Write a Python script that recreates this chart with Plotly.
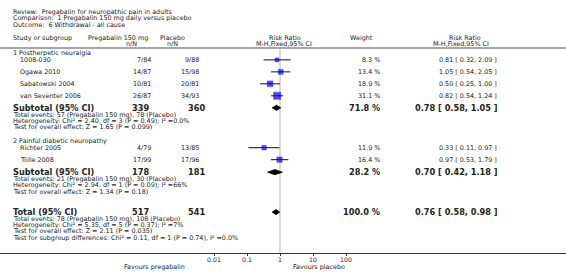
import plotly.graph_objects as go

# ---------------- data ----------------
study_names = ["1008-030", "Ogawa 2010", "Sabatowski 2004", "van Seventer 2006",
               "Richter 2005", "Tölle 2008"]
study_group = [0, 0, 0, 0, 1, 1]
preg_events = [7, 14, 10, 26, 4, 17]
preg_total = [84, 87, 81, 87, 79, 99]
plac_events = [9, 15, 20, 34, 13, 17]
plac_total = [88, 98, 81, 93, 85, 96]
rr = [0.81, 1.05, 0.50, 0.82, 0.33, 0.97]
rr_lo = [0.32, 0.54, 0.25, 0.54, 0.11, 0.53]
rr_hi = [2.09, 2.05, 1.00, 1.24, 0.97, 1.79]
weights = [8.3, 13.4, 18.9, 31.1, 11.9, 16.4]

group_labels = ["1 Postherpetic neuralgia", "2 Painful diabetic neuropathy"]
sub_preg_total = [339, 178]
sub_plac_total = [360, 181]
sub_rr = [0.78, 0.70]
sub_lo = [0.58, 0.42]
sub_hi = [1.05, 1.18]
sub_weight = [71.8, 28.2]
sub_notes = [
    ["Total events: 57 (Pregabalin 150 mg), 78 (Placebo)",
     "Heterogeneity: Chi² = 2.40, df = 3 (P = 0.49); I² =0.0%",
     "Test for overall effect: Z = 1.65 (P = 0.099)"],
    ["Total events: 21 (Pregabalin 150 mg), 30 (Placebo)",
     "Heterogeneity: Chi² = 2.94, df = 1 (P = 0.09); I² =66%",
     "Test for overall effect: Z = 1.34 (P = 0.18)"],
]
tot_preg_total = 517
tot_plac_total = 541
tot_rr = 0.76
tot_lo = 0.58
tot_hi = 0.98
tot_weight = 100.0
tot_notes = ["Total events: 78 (Pregabalin 150 mg), 108 (Placebo)",
             "Heterogeneity: Chi² = 5.35, df = 5 (P = 0.37); I² =7%",
             "Test for overall effect: Z = 2.11 (P = 0.035)",
             "Test for subgroup differences: Chi² = 0.11, df = 1 (P = 0.74), I² =0.0%"]

tick_vals = [0.01, 0.1, 1, 10, 100]
tick_text = ["0.01", "0.1", "1", "10", "100"]

title_lines = ["Review:  Pregabalin for neuropathic pain in adults",
               "Comparison:  1 Pregabalin 150 mg daily versus placebo",
               "Outcome:  6 Withdrawal - all cause"]

# ---------------- layout helpers ----------------
W, H = 566, 272
PLOT_H = 253.5
FONT = "DejaVu Sans"
TXT = "#222222"
FS = 6.4
FSB = 8.2

study_y = [60, 72, 84, 96, 148, 160]
group_y = [53, 141.5]
sub_y = [108.0, 172.5]
tot_y = 212.5
NOTE_DY = 6.25

fig = go.Figure()


def txt(px, py, s, anchor="left", size=FS, bold=False):
    fig.add_annotation(
        x=px / W, xref="paper", y=1 - py / PLOT_H, yref="paper",
        text=f"<b>{s}</b>" if bold else s, showarrow=False,
        xanchor=anchor, yanchor="middle", borderpad=0, borderwidth=0,
        font=dict(family=FONT, size=size, color=TXT))


# header texts
for i, s in enumerate(title_lines):
    txt(13, 12.3 + i * 6.2, s)
txt(13, 38, "Study or subgroup")
txt(148, 38, "Pregabalin 150 mg", "right")
txt(137, 44, "n/N", "right")
txt(172.5, 38, "Placebo", "center")
txt(172.5, 44, "n/N", "center")
txt(285, 38, "Risk Ratio", "center")
txt(284, 44, "M-H,Fixed,95% CI", "center")
txt(361, 38, "Weight", "center")
txt(465, 38, "Risk Ratio", "center")
txt(461, 44, "M-H,Fixed,95% CI", "center")

# group labels
for g, lab in enumerate(group_labels):
    txt(13, group_y[g], lab)

# studies
for i, name in enumerate(study_names):
    y = study_y[i]
    txt(20, y, name)
    txt(151, y, f"{preg_events[i]}/{preg_total[i]}", "right")
    txt(199, y, f"{plac_events[i]}/{plac_total[i]}", "right")
    txt(380, y, f"{weights[i]:.1f} %", "right")
    txt(497, y, f"{rr[i]:.2f} [ {rr_lo[i]:.2f}, {rr_hi[i]:.2f} ]", "right")

# subtotals
for g in range(2):
    y = sub_y[g]
    txt(13, y, "Subtotal (95% CI)", bold=True, size=FSB)
    txt(149, y, str(sub_preg_total[g]), "right", bold=True, size=FSB)
    txt(205, y, str(sub_plac_total[g]), "right", bold=True, size=FSB)
    txt(380, y, f"{sub_weight[g]:.1f} %", "right", bold=True, size=FSB)
    txt(498, y, f"{sub_rr[g]:.2f} [ {sub_lo[g]:.2f}, {sub_hi[g]:.2f} ]", "right",
        bold=True, size=FSB)
    for k, note in enumerate(sub_notes[g]):
        txt(13, y + 6.9 + k * NOTE_DY, note)

# total
txt(13, tot_y, "Total (95% CI)", bold=True, size=FSB)
txt(149, tot_y, str(tot_preg_total), "right", bold=True, size=FSB)
txt(205, tot_y, str(tot_plac_total), "right", bold=True, size=FSB)
txt(380, tot_y, f"{tot_weight:.1f} %", "right", bold=True, size=FSB)
txt(498, tot_y, f"{tot_rr:.2f} [ {tot_lo:.2f}, {tot_hi:.2f} ]", "right", bold=True, size=FSB)
for k, note in enumerate(tot_notes):
    txt(13, tot_y + 6.8 + k * NOTE_DY, note)

# footer
txt(185, 267.8, "Favours pregabalin", "right")
txt(293, 267.8, "Favours placebo", "left")

# ---------------- marks ----------------
# CI lines
lx, ly = [], []
for i in range(len(rr)):
    lx += [rr_lo[i], rr_hi[i], None]
    ly += [study_y[i], study_y[i], None]
fig.add_trace(go.Scatter(x=lx, y=ly, mode="lines", line=dict(color="#111111", width=1),
                         hoverinfo="skip", showlegend=False))

# squares sized by weight
sizes = [1.2 * (w ** 0.5) + 0.6 for w in weights]
fig.add_trace(go.Scatter(
    x=rr, y=study_y, mode="markers",
    marker=dict(symbol="square", size=sizes, color="#0000ff",
                line=dict(color="#0000cc", width=0.4)),
    showlegend=False, text=study_names))

# diamonds
dx, dy = [], []
HALF = 2.6
for est, lo, hi, y in list(zip(sub_rr, sub_lo, sub_hi, sub_y)) + [(tot_rr, tot_lo, tot_hi, tot_y)]:
    dx += [lo, est, hi, est, lo, None]
    dy += [y, y - HALF, y, y + HALF, y, None]
fig.add_trace(go.Scatter(x=dx, y=dy, mode="lines", fill="toself", fillcolor="#000000",
                         line=dict(color="#000000", width=0.8), showlegend=False,
                         hoverinfo="skip"))

# ---------------- axes / shapes ----------------
PX_PER_DEC = 33.0
X1 = 280.0
xr = [-X1 / PX_PER_DEC, (W - X1) / PX_PER_DEC]

fig.add_shape(type="line", xref="x", yref="y", x0=1, x1=1, y0=48, y1=PLOT_H,
              line=dict(color="#d9d9d9", width=2), layer="below")
fig.add_shape(type="line", xref="paper", yref="y", x0=0, x1=1, y0=48, y1=48,
              line=dict(color="#a6a6a6", width=2))

fig.update_layout(
    width=W, height=H,
    margin=dict(l=0, r=0, t=0, b=H - PLOT_H, pad=0),
    paper_bgcolor="white", plot_bgcolor="white",
    font=dict(family=FONT, size=FS, color=TXT),
    xaxis=dict(type="log", range=xr, tickvals=tick_vals, ticktext=tick_text,
               showgrid=False, zeroline=False, showline=True, linecolor="#333333",
               linewidth=1, ticks="outside", ticklen=2, tickcolor="#333333",
               ticklabelstandoff=-1,
               tickfont=dict(family=FONT, size=6.2, color=TXT), fixedrange=True),
    yaxis=dict(range=[PLOT_H, 0], visible=False, fixedrange=True),
    showlegend=False,
)

fig.write_html("out.html", config={"displayModeBar": False},
               post_script="document.body.style.margin='0px';document.body.style.padding='0px';")
